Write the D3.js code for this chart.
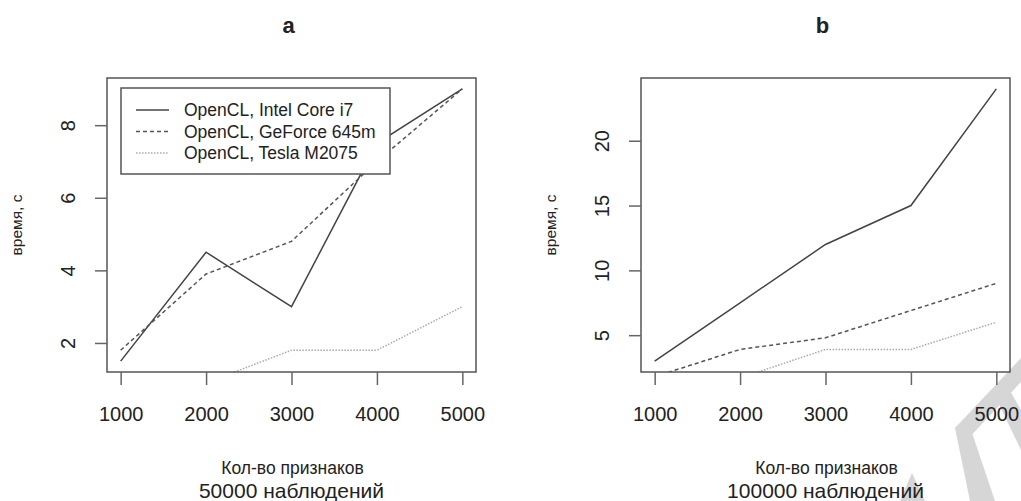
<!DOCTYPE html>
<html>
<head>
<meta charset="utf-8">
<script src="https://cdn.jsdelivr.net/npm/d3@7"></script>
<style>
  body { margin: 0; background: #fff; }
  text { font-family: "Liberation Sans", Arial, sans-serif; fill: #222; }
</style>
</head>
<body>
<div id="chart"></div>
<script>
// data
var features = [1000, 2000, 3000, 4000, 5000];
var xTicks = [1000, 2000, 3000, 4000, 5000];

var intelA   = [1.5, 4.5, 3.0, 7.5, 9.0];
var geforceA = [1.8, 3.9, 4.8, 7.0, 9.0];
var teslaA   = [0.5, 0.9, 1.8, 1.8, 3.0];
var yTicksA  = [2, 4, 6, 8];

var intelB   = [3.0, 7.5, 12.0, 15.0, 24.0];
var geforceB = [1.8, 3.9, 4.8, 6.9, 9.0];
var teslaB   = [1.0, 1.7, 3.9, 3.9, 6.0];
var yTicksB  = [5, 10, 15, 20];

var seriesNames = ["OpenCL, Intel Core i7", "OpenCL, GeForce 645m", "OpenCL, Tesla M2075"];
var seriesStyle = [
  { color: "#444", dash: null, width: 1.5 },
  { color: "#555", dash: "4,3", width: 1.5 },
  { color: "#aaa", dash: "1.5,1.5", width: 1.5 }
];

var svg = d3.select("#chart").append("svg")
  .attr("width", 1021).attr("height", 501);

// R style padded range (4%)
function padded(arr) {
  var lo = d3.min(arr), hi = d3.max(arr), p = (hi - lo) * 0.04;
  return [lo - p, hi + p];
}

function panel(p) {
  var top = 78, bottom = 372;
  var x = d3.scaleLinear().domain(padded(features)).range([p.left, p.right]);
  var y = d3.scaleLinear().domain(padded(p.series[0])).range([bottom, top]);

  var g = svg.append("g");

  g.append("clipPath").attr("id", "clip" + p.id)
    .append("rect").attr("x", p.left).attr("y", top)
    .attr("width", p.right - p.left).attr("height", bottom - top);

  var line = d3.line().x(function(d, i) { return x(features[i]); }).y(function(d) { return y(d); });

  var lines = g.append("g").attr("clip-path", "url(#clip" + p.id + ")");
  p.series.forEach(function(s, i) {
    lines.append("path")
      .attr("d", line(s))
      .attr("fill", "none")
      .attr("stroke", seriesStyle[i].color)
      .attr("stroke-width", seriesStyle[i].width)
      .attr("stroke-dasharray", seriesStyle[i].dash);
  });

  // box
  g.append("rect").attr("x", p.left).attr("y", top)
    .attr("width", p.right - p.left).attr("height", bottom - top)
    .attr("fill", "none").attr("stroke", "#555").attr("stroke-width", 1.5);

  // x axis
  var xa = g.append("g").attr("transform", "translate(0," + bottom + ")")
    .call(d3.axisBottom(x).tickValues(xTicks).tickSize(13).tickPadding(22).tickFormat(d3.format("d")));
  xa.select(".domain").remove();
  xa.selectAll("line").attr("stroke", "#666").attr("stroke-width", 1.5);
  xa.selectAll("text").attr("font-size", 20).attr("font-family", null).attr("fill", "#222");

  // y axis
  var ya = g.append("g").attr("transform", "translate(" + p.left + ",0)")
    .call(d3.axisLeft(y).tickValues(p.yTicks).tickSize(12));
  ya.select(".domain").remove();
  ya.selectAll("line").attr("stroke", "#666").attr("stroke-width", 1.5);
  ya.selectAll("text").attr("font-size", 20).attr("font-family", null).attr("fill", "#222")
    .attr("x", null).attr("dy", null)
    .attr("text-anchor", "middle")
    .attr("transform", "translate(-39,0) rotate(-90)")
    .attr("y", 7);

  // titles
  var cx = (p.left + p.right) / 2;
  g.append("text").attr("x", cx - 3).attr("y", 33).attr("text-anchor", "middle")
    .attr("font-size", 22).attr("font-weight", "bold").text(p.title);
  g.append("text").attr("x", cx + 1).attr("y", 474).attr("text-anchor", "middle")
    .attr("font-size", 17.5).text("Кол-во признаков");
  g.append("text").attr("x", cx).attr("y", 498).attr("text-anchor", "middle")
    .attr("font-size", 21).text(p.sub);
  g.append("text").attr("transform", "translate(" + (p.left - 85) + "," + ((top + bottom) / 2) + ") rotate(-90)")
    .attr("text-anchor", "middle").attr("font-size", 15.5).text("время, с");
}

panel({ id: "a", left: 107, right: 476, series: [intelA, geforceA, teslaA], yTicks: yTicksA, title: "a", sub: "50000 наблюдений" });
panel({ id: "b", left: 641, right: 1010, series: [intelB, geforceB, teslaB], yTicks: yTicksB, title: "b", sub: "100000 наблюдений" });

// legend in panel a
var leg = svg.append("g");
leg.append("rect").attr("x", 121).attr("y", 88).attr("width", 269).attr("height", 86)
  .attr("fill", "#fff").attr("stroke", "#555").attr("stroke-width", 1.5);
seriesNames.forEach(function(n, i) {
  var yy = 110 + i * 21.5;
  leg.append("line").attr("x1", 136).attr("x2", 169).attr("y1", yy).attr("y2", yy)
    .attr("stroke", seriesStyle[i].color).attr("stroke-width", seriesStyle[i].width)
    .attr("stroke-dasharray", seriesStyle[i].dash);
  leg.append("text").attr("x", 184).attr("y", yy + 6).attr("font-size", 17.5).text(n);
});

// watermark fragments in the lower right corner
var wm = [
  [[955, 428], [1021, 358], [1021, 382], [967, 440]],
  [[955, 428], [967, 418], [995, 501], [970, 501]],
  [[993, 392], [1005, 382], [1021, 410], [1021, 450]],
  [[900, 501], [912, 473], [925, 501]]
];
svg.insert("g", ":first-child").selectAll("polygon").data(wm).enter().append("polygon")
  .attr("points", function(d) { return d.map(function(q) { return q.join(","); }).join(" "); })
  .attr("fill", "#d6d6d6");
</script>
</body>
</html>
